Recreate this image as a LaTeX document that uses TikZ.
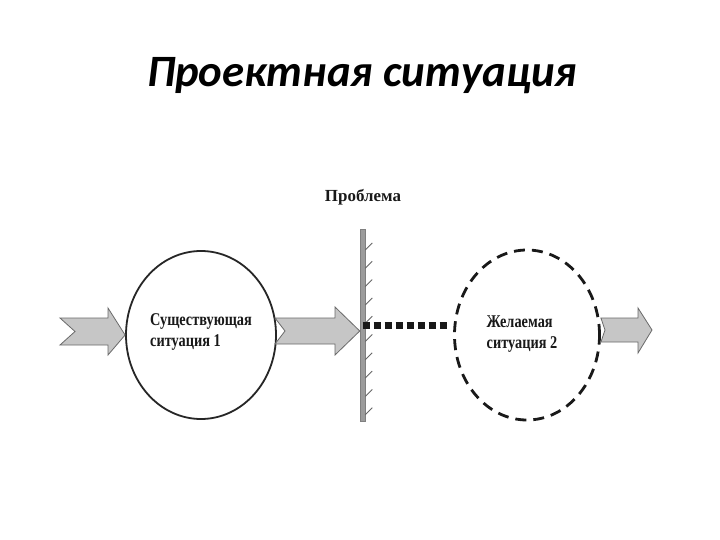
\documentclass[tikz,border=0pt]{standalone}
\usepackage{fontspec}
\setmainfont{Liberation Serif}
\newfontfamily\titlefont{Carlito}
\newfontfamily\lblfont{Liberation Serif}[FakeStretch=0.8]
\newfontfamily\probfont{Liberation Serif}
\usetikzlibrary{shapes.geometric}
\definecolor{arrfill}{HTML}{C6C6C6}
\definecolor{arrline}{HTML}{6A6A6A}
\definecolor{wallfill}{HTML}{9C9C9C}
\begin{document}
\begin{tikzpicture}[x=1bp,y=-1bp,
  situation/.style={ellipse, draw=black!85, line width=1.8bp, inner sep=0pt},
  wish/.style={ellipse, draw=black!90, line width=2.8bp, dash pattern=on 11bp off 7bp, inner sep=0pt},
  lbl/.style={font=\lblfont\bfseries\fontsize{18}{21}\selectfont, text=black!90, inner sep=0pt, align=left},
  fatarrow/.style={fill=arrfill, draw=arrline, line width=0.8bp, line join=miter},
  wallbar/.style={rectangle, fill=wallfill, draw=black!50, line width=0.5bp, inner sep=0pt, minimum width=5bp, minimum height=192bp},
  hatch/.style={draw=black!60, line width=0.9bp},
  gapline/.style={draw=black!90, line width=7bp, dash pattern=on 7bp off 4bp}
]
\useasboundingbox (0,0) rectangle (720,540);
\fill[white] (0,0) rectangle (720,540);

% title
\node[font=\titlefont\bfseries\itshape\fontsize{45}{48}\selectfont, anchor=base, inner sep=0pt] (title) at (362,87) {Проектная ситуация};

% situations
\node[situation, minimum width=150bp, minimum height=168bp] (c1) at (201,335) {};
\node[wish, minimum width=145bp, minimum height=170bp] (c2) at (527,335) {};
\node[lbl] (t1) at (201,332) {Существующая\\ситуация 1};
\node[lbl] (t2) at (522,334) {Желаемая\\ситуация 2};

% wall (problem)
\node[wallbar] (wall) at (362.5,325) {};
\node[font=\probfont\bfseries\fontsize{17}{21}\selectfont, text=black!90, anchor=base, inner sep=0pt] (prob) at (363,202) {Проблема};
\foreach \yy in {250,268.3,...,416} {
  \draw[hatch] ([yshift=-\yy bp]wall.east |- 0,0) -- ++(7,-7);
}

% gap between wall and desired situation
\draw[gapline] (wall.center) -- (wall.center -| c2.west) [shorten >=3bp];

% fat arrows
\coordinate (a1) at (60,331.5);
\draw[fatarrow] (a1) ++(0,-13.5) -- ++(48,0) -- ++(0,-10) -- (c1.west) -- (108,355) -- (108,345) -- (60,345) -- (75,331.5) -- cycle;
\draw[fatarrow] (275,318) -- (335,318) -- (335,307) -- (wall.west |- 0,331) -- (335,355) -- (335,344) -- (275,344) -- (285,331) -- cycle;
\coordinate (a3) at (652,330);
\draw[fatarrow] (c2.east |- 0,318) -- (638,318) -- (638,308) -- (a3) -- (638,353) -- (638,342) -- (c2.east |- 0,342) -- (605,330) -- cycle;
\end{tikzpicture}
\end{document}
